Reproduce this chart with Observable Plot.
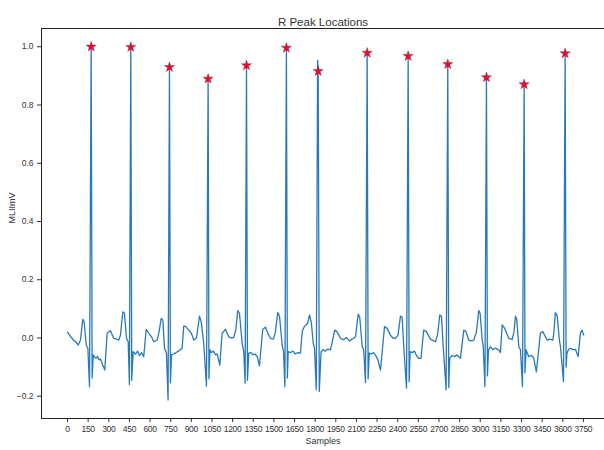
<!DOCTYPE html>
<html>
<head>
<meta charset="utf-8">
<script src="https://cdn.jsdelivr.net/npm/d3@7"></script>
<script src="https://cdn.jsdelivr.net/npm/@observablehq/plot@0.6"></script>
<style>
  html, body { margin: 0; padding: 0; background: #fff; }
  #chart svg { display: block; }
</style>
</head>
<body>
<div id="chart"></div>
<script>
const titleText = "R Peak Locations";
const xLabel = "Samples";
const yLabel = "MLIImV";

// ECG samples (sample index, value in mV)
const samples = [
  0, 22, 40, 58, 78, 94, 111, 121, 136, 148, 160, 172, 179,
  187, 196, 207, 218, 229, 240, 254, 271, 288, 312, 336, 356, 373, 385, 402, 414, 429, 441, 450, 460, 467,
  477, 494, 509, 523, 538, 554, 572, 591, 610, 627, 652, 665, 681, 693, 705, 719, 731, 741, 748,
  756, 770, 789, 807, 833, 845, 858, 870, 887, 901, 918, 937, 952, 959, 972, 990, 1010, 1022, 1028,
  1035, 1046, 1061, 1076, 1088, 1107, 1124, 1148, 1172, 1192, 1208, 1224, 1237, 1250, 1269, 1281, 1291, 1301, 1308,
  1317, 1334, 1348, 1363, 1379, 1395, 1419, 1439, 1457, 1475, 1497, 1511, 1528, 1541, 1560, 1570, 1580, 1591, 1598,
  1604, 1621, 1639, 1657, 1675, 1693, 1706, 1722, 1744, 1760, 1773, 1786, 1795, 1808, 1818, 1822, 1830,
  1843, 1857, 1875, 1893, 1911, 1926, 1942, 1958, 1984, 2006, 2027, 2049, 2069, 2093, 2113, 2124, 2142, 2153, 2166, 2178, 2185,
  2193, 2209, 2224, 2238, 2256, 2275, 2304, 2323, 2347, 2365, 2384, 2402, 2420, 2432, 2444, 2464, 2476, 2483,
  2490, 2507, 2522, 2536, 2553, 2569, 2589, 2609, 2638, 2656, 2674, 2689, 2706, 2718, 2730, 2752, 2764, 2771,
  2778, 2794, 2812, 2827, 2844, 2856, 2880, 2897, 2916, 2936, 2953, 2972, 2989, 2999, 3014, 3021, 3034, 3045, 3052,
  3060, 3074, 3092, 3110, 3134, 3147, 3159, 3178, 3207, 3232, 3245, 3256, 3265, 3280, 3292, 3307, 3319, 3325,
  3333, 3352, 3372, 3388, 3408, 3437, 3454, 3486, 3506, 3528, 3535, 3546, 3559, 3575, 3583, 3605, 3617, 3624,
  3630, 3641, 3655, 3673, 3692, 3711, 3728, 3740, 3752
];
const mliiValues = [
  0.020, 0.005, -0.005, -0.013, -0.024, -0.007, 0.064, 0.056, -0.024, -0.035, -0.167, 1.000, -0.137,
  -0.058, -0.065, -0.070, -0.063, -0.075, -0.072, -0.090, -0.110, 0.016, 0.025, -0.001, -0.004, -0.007, 0.010, 0.090, 0.085, -0.001, -0.013, -0.160, 0.999, -0.145,
  -0.047, -0.055, -0.045, -0.060, -0.050, -0.064, 0.030, 0.016, 0.005, -0.013, -0.007, 0.020, 0.067, 0.062, -0.035, -0.052, -0.213, 0.930, -0.154,
  -0.058, -0.055, -0.050, -0.045, -0.035, 0.041, 0.040, 0.033, 0.025, 0.015, -0.007, 0.000, 0.050, 0.075, 0.056, -0.018, -0.165, 0.890, -0.140,
  -0.041, -0.050, -0.045, -0.058, -0.055, -0.093, 0.016, 0.030, 0.004, 0.000, 0.002, 0.030, 0.094, 0.085, -0.018, -0.047, -0.155, 0.936, -0.145,
  -0.052, -0.050, -0.058, -0.055, -0.064, -0.096, 0.030, 0.037, 0.015, -0.001, -0.004, 0.020, 0.087, 0.075, -0.024, -0.047, -0.167, 0.996, -0.137,
  -0.047, -0.050, -0.045, -0.055, -0.050, -0.052, 0.022, 0.040, 0.050, 0.079, 0.050, -0.018, -0.035, -0.178, 0.953, 0.916, -0.184,
  -0.047, -0.040, -0.045, -0.038, -0.041, -0.010, 0.027, 0.022, -0.001, -0.006, 0.002, -0.010, -0.004, 0.004, 0.082, 0.072, -0.030, -0.041, -0.153, 0.979, -0.140,
  -0.052, -0.055, -0.050, -0.058, -0.075, -0.110, 0.039, 0.033, 0.010, 0.000, -0.001, 0.010, 0.075, 0.072, -0.030, -0.172, 0.968, -0.150,
  -0.047, -0.050, -0.045, -0.060, -0.070, -0.070, 0.027, 0.022, -0.004, -0.008, -0.013, 0.010, 0.079, 0.075, -0.024, -0.178, 0.940, -0.170,
  -0.070, -0.060, -0.064, -0.058, -0.064, -0.070, 0.027, 0.022, -0.007, -0.010, -0.007, 0.020, 0.094, 0.085, -0.007, -0.024, -0.167, 0.895, -0.130,
  -0.041, -0.030, -0.040, -0.035, -0.041, -0.050, 0.045, 0.033, -0.001, -0.005, 0.020, 0.075, 0.065, -0.030, -0.040, -0.167, 0.871, -0.120,
  -0.041, -0.064, -0.060, -0.068, -0.116, 0.016, 0.022, -0.007, -0.004, -0.007, 0.020, 0.087, 0.077, -0.007, -0.030, -0.150, 0.977, -0.100,
  -0.052, -0.040, -0.035, -0.040, -0.039, -0.064, 0.016, 0.027, 0.010
];

// detected R peaks
const peakSamples = [172, 460, 741, 1022, 1301, 1591, 1822, 2178, 2476, 2764, 3045, 3319, 3617];
const peakValues  = [1.000, 0.999, 0.930, 0.890, 0.936, 0.996, 0.916, 0.979, 0.968, 0.940, 0.895, 0.871, 0.977];

// axis ticks
const xTicks = [0, 150, 300, 450, 600, 750, 900, 1050, 1200, 1350, 1500, 1650, 1800, 1950, 2100, 2250, 2400, 2550, 2700, 2850, 3000, 3150, 3300, 3450, 3600, 3750];
const yTicks = [-0.2, 0.0, 0.2, 0.4, 0.6, 0.8, 1.0];

const signal = samples.map((s, i) => ({sample: s, value: mliiValues[i]}));
const peaks = peakSamples.map((s, i) => ({sample: s, value: peakValues[i]}));

const font = "'Liberation Sans', Arial, sans-serif";

const chart = Plot.plot({
  width: 604,
  height: 450,
  marginLeft: 41,
  marginRight: 0,
  marginTop: 28,
  marginBottom: 32,
  style: {fontFamily: font, fontSize: "8.5px", background: "#fff", color: "#333"},
  x: {domain: [-189, 3903]},
  y: {domain: [-0.2764, 1.0627]},
  marks: [
    Plot.axisX({ticks: xTicks, tickSize: 4, tickPadding: 3, label: null, tickFormat: d => String(d), letterSpacing: "-0.3px"}),
    Plot.axisY({ticks: yTicks, tickSize: 4, tickPadding: 4, label: null, tickFormat: d3.format(".1f")}),
    Plot.line(signal, {x: "sample", y: "value", stroke: "#2879b9", strokeWidth: 1.3}),
    Plot.dot(peaks, {x: "sample", y: "value", symbol: "star", r: 3.2, fill: "#e4102b", stroke: "#a01040", strokeWidth: 0.4}),
    Plot.frame({stroke: "#222", strokeWidth: 1}),
    Plot.text([titleText], {frameAnchor: "top", dy: -11, fontSize: 11.5, fill: "#333"}),
    Plot.text([xLabel], {frameAnchor: "bottom", dy: 25, fontSize: 9, fill: "#333"}),
    Plot.text([yLabel], {frameAnchor: "left", dx: -29, rotate: -90, fontSize: 9, fill: "#333"})
  ]
});
// tighten x tick labels like the reference's narrow lettering
chart.querySelectorAll("g[aria-label='x-axis tick label'] text").forEach(t => t.setAttribute("letter-spacing", "-0.3"));
document.getElementById("chart").appendChild(chart);
</script>
</body>
</html>
